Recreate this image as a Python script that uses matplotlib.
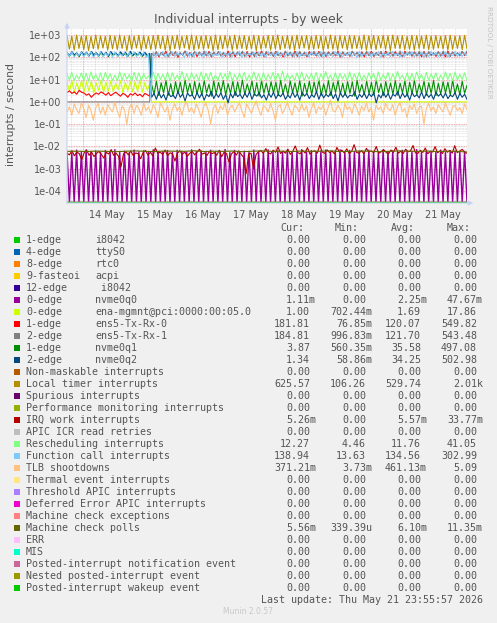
import numpy as np
import matplotlib
matplotlib.use('Agg')
import matplotlib.pyplot as plt
from matplotlib.patches import FancyArrowPatch, Rectangle

# ------------------------------------ data ------------------------------------
# x axis: days counted from 13 May 00:00; window 13 May 16:00 -> 22 May 00:00
T0, T1 = 0.667, 9.0
TSW = 2.41  # reboot / irq renumbering on 15 May morning
DAY_POS = [1.5, 2.5, 3.5, 4.5, 5.5, 6.5, 7.5, 8.5]
DAY_LABELS = ['14 May', '15 May', '16 May', '17 May', '18 May', '19 May', '20 May', '21 May']
Y_TICKS = [1e-4, 1e-3, 1e-2, 1e-1, 1e0, 1e1, 1e2, 1e3]
Y_LABELS = ['1e-04', '1e-03', '1e-02', '1e-01', '1e+00', '1e+01', '1e+02', '1e+03']

local_timer = [
    930, 230, 870, 210, 980, 250, 900, 220, 950, 200, 860, 240,
    990, 230, 910, 260, 880, 210, 960, 240, 900, 220, 1000, 250,
    870, 200, 940, 230, 890, 260, 970, 210, 920, 240, 860, 220,
    950, 230, 990, 250, 880, 210, 930, 200, 900, 240, 970, 230,
    860, 260, 940, 220, 1000, 210, 890, 240, 920, 230, 960, 250,
    870, 200, 980, 220, 910, 240, 940, 260, 880, 210, 990, 230,
    900, 250, 950, 220, 860, 240, 970, 200, 920, 230, 890, 260,
    960, 210, 930, 240, 1000, 220, 870, 250, 940, 230, 900, 210,
    980, 240, 910, 260, 950, 220, 880, 230, 970, 250, 920, 200,
    860, 240, 990, 230, 900, 210, 940, 260, 890, 220, 960, 240,
    930, 250, 870, 230, 1000, 210, 910, 240, 950, 220, 880, 260,
    970, 230, 920, 200, 990, 250, 900, 240, 940, 220, 860, 230,
    960, 210, 930, 250, 890, 240, 980, 220, 910, 230, 950, 260,
    880, 240, 940, 210, 970, 230, 900, 250, 930, 220, 960, 240,
]

function_call = [
    160, 110, 175, 100, 150, 120, 170, 105, 165, 115, 180, 98,
    155, 112, 172, 104, 160, 118, 168, 100, 176, 108, 150, 115,
    170, 102, 162, 120, 178, 106, 158, 112, 166, 100, 150, 1.5,
    170, 105, 160, 118, 182, 100, 155, 112, 174, 108, 165, 120,
    150, 98, 178, 110, 162, 104, 170, 116, 158, 100, 185, 112,
    166, 106, 152, 118, 176, 102, 160, 114, 172, 108, 156, 120,
    180, 100, 164, 110, 150, 116, 174, 104, 168, 112, 158, 98,
    176, 118, 162, 106, 184, 110, 154, 102, 170, 120, 160, 108,
    178, 100, 152, 114, 166, 104, 172, 118, 158, 110, 182, 100,
    164, 112, 150, 106, 176, 116, 168, 102, 156, 120, 174, 108,
    160, 98, 180, 110, 154, 114, 170, 104, 162, 118, 178, 100,
    158, 112, 166, 106, 184, 116, 152, 102, 172, 110, 164, 120,
    176, 104, 160, 114, 170, 100, 156, 108, 182, 118, 168, 106,
    162, 112, 174, 102, 150, 116, 178, 108, 166, 110, 158, 120,
]

ens5_0_pre = [2.6, 3.1, 2.4, 2.8, 2.2, 3.3, 2.7, 2.5, 2.0, 2.3, 1.6, 2.1,
              2.5, 2.2, 2.8, 2.4, 2.0, 2.6, 1.9, 2.3, 2.7, 2.2, 1.8, 2.4,
              2.1, 1.6, 2.3, 2.0, 2.5, 1.9, 2.2, 1.7, 2.4, 2.1, 1.8]
ens5_0_post = [
    150, 118, 172, 105, 160, 125, 185, 110, 168, 120, 178, 100,
    155, 130, 190, 112, 162, 122, 175, 108, 170, 126, 158, 115,
    182, 104, 165, 128, 176, 118, 152, 110, 188, 124, 160, 106,
    172, 130, 166, 114, 180, 102, 158, 122, 174, 116, 190, 108,
    162, 126, 170, 112, 184, 120, 156, 104, 176, 128, 164, 118,
    186, 110, 168, 124, 154, 106, 178, 130, 160, 114, 182, 120,
    166, 108, 174, 126, 158, 116, 188, 102, 170, 122, 162, 112,
    180, 128, 156, 118, 176, 106, 168, 124, 184, 110, 160, 120,
    172, 104, 190, 126, 164, 114, 178, 118, 154, 108, 186, 130,
    166, 112, 174, 122, 160, 106, 182, 116, 170, 128, 158, 110,
    176, 120, 164, 104, 188, 124, 168, 114, 156, 126, 180, 118, 182,
]

ens5_1_pre = [1.0, 1.0, 1.0, 1.0, 1.0, 1.0, 1.0, 1.0, 1.0, 1.0, 1.0, 1.0]
ens5_1_post = [
    140, 125, 178, 112, 165, 118, 160, 104, 182, 128, 170, 110,
    162, 122, 186, 116, 158, 106, 176, 130, 168, 114, 190, 120,
    160, 108, 174, 126, 182, 112, 166, 118, 156, 102, 180, 128,
    170, 116, 188, 110, 164, 124, 176, 106, 158, 120, 172, 114,
    184, 128, 166, 108, 178, 118, 160, 126, 190, 112, 170, 104,
    162, 122, 182, 116, 174, 110, 156, 128, 186, 120, 168, 106,
    178, 114, 160, 124, 180, 118, 166, 108, 176, 130, 158, 112,
    188, 120, 170, 104, 164, 126, 182, 116, 172, 110, 160, 122,
    184, 108, 168, 128, 176, 114, 156, 120, 190, 106, 166, 124,
    178, 118, 162, 112, 186, 126, 170, 104, 180, 116, 158, 122,
    174, 110, 188, 128, 164, 106, 176, 120, 160, 114, 184, 124, 185,
]

nvme0q1_pre = [150, 110, 165, 118, 148, 108, 160, 120, 155, 112, 170, 116,
               150, 110, 162, 118, 158, 106, 168, 120, 150, 112, 160, 116,
               156, 108, 170, 114, 148, 120, 158, 110, 152, 116, 140]
nvme0q1_post = [
    6.0, 2.2, 8.5, 1.9, 7.2, 2.5, 9.0, 2.0, 6.5, 1.8, 8.0, 2.4,
    7.5, 2.1, 9.5, 2.6, 6.8, 1.9, 8.2, 2.3, 7.0, 2.0, 9.2, 2.5,
    6.2, 1.8, 8.8, 2.2, 7.4, 2.7, 9.0, 2.0, 6.6, 2.4, 8.4, 1.9,
    7.8, 2.3, 9.6, 2.1, 6.4, 2.6, 8.6, 2.0, 7.2, 1.8, 9.0, 2.4,
    6.9, 2.2, 8.0, 2.5, 7.6, 1.9, 9.4, 2.3, 6.3, 2.0, 8.7, 2.6,
    7.1, 2.2, 9.1, 1.8, 6.7, 2.4, 8.3, 2.1, 7.7, 2.5, 9.5, 2.0,
    6.5, 2.3, 8.9, 1.9, 7.3, 2.6, 9.2, 2.2, 6.8, 2.0, 8.1, 2.4,
    7.9, 1.8, 9.3, 2.5, 6.1, 2.1, 8.5, 2.3, 7.4, 2.0, 9.7, 2.6,
    6.6, 1.9, 8.2, 2.4, 7.0, 2.2, 9.0, 2.0, 6.9, 2.5, 8.8, 1.8,
    7.5, 2.3, 9.4, 2.1, 6.4, 2.6, 8.6, 2.0, 7.2, 2.4, 9.1, 1.9,
    6.8, 2.2, 8.0, 2.5, 7.6, 2.0, 9.3, 2.3, 6.3, 2.1, 8.4, 2.4, 5.5,
]

nvme0q2_pre = [165, 120, 180, 130, 158, 115, 176, 128, 170, 118, 185, 132,
               160, 122, 178, 126, 168, 114, 182, 130, 162, 120, 175, 128,
               170, 116, 184, 124, 158, 130, 172, 118, 166, 126, 150]
nvme0q2_post = [
    1.6, 2.4, 1.3, 2.8, 1.5, 2.2, 1.2, 2.6, 1.7, 2.0, 1.4, 2.9,
    1.6, 2.3, 1.1, 2.5, 1.8, 2.1, 1.3, 2.7, 1.5, 2.4, 1.2, 2.2,
    1.7, 3.0, 1.4, 2.3, 1.6, 2.6, 1.3, 2.1, 0.9, 2.4, 1.5, 2.8,
    1.7, 2.2, 1.4, 2.5, 1.6, 2.9, 1.3, 2.3, 1.8, 2.6, 1.5, 2.1,
    1.2, 2.4, 1.6, 2.7, 1.4, 2.2, 1.7, 2.5, 1.3, 2.0, 1.5, 2.8,
    1.6, 2.3, 1.2, 2.6, 1.8, 2.4, 1.4, 2.1, 1.6, 2.9, 1.3, 2.5,
    1.5, 2.2, 1.7, 2.7, 1.4, 2.3, 1.1, 2.6, 1.6, 2.4, 1.5, 2.0,
    1.8, 2.8, 1.3, 2.2, 1.6, 2.5, 1.4, 2.3, 1.7, 2.6, 0.9, 2.1,
    1.5, 2.7, 1.6, 2.4, 1.3, 2.2, 1.8, 2.9, 1.4, 2.5, 1.6, 2.3,
    1.2, 2.6, 1.7, 2.1, 1.5, 2.8, 1.4, 2.4, 1.6, 2.2, 1.3, 2.7,
    1.8, 2.3, 1.5, 2.5, 1.4, 2.0, 1.7, 2.6, 1.3, 2.4, 1.6, 2.2, 1.3,
]

ena_pre = [7.5, 3.0, 8.8, 2.6, 6.9, 3.4, 9.0, 2.8, 7.8, 3.1, 8.4, 2.5,
           7.0, 3.3, 9.2, 2.7, 7.6, 3.0, 8.6, 2.9, 6.8, 3.5, 8.9, 2.6,
           7.3, 3.2, 8.1, 2.8, 7.9, 3.0, 9.1, 2.7, 7.2, 3.3, 6.5]
ena_post = [1.0, 1.0, 1.0, 1.0, 1.0, 1.0, 1.0, 1.0, 1.0, 1.0, 1.0, 1.0]

rescheduling = [
    18, 9.5, 21, 8.8, 16, 10.5, 20, 9.0, 19, 8.5, 22, 10.0,
    17, 9.2, 20, 8.6, 21, 10.2, 18, 9.0, 16, 8.8, 22, 9.6,
    19, 10.4, 17, 8.4, 21, 9.8, 20, 9.0, 18, 10.6, 15, 9.2,
    22, 8.8, 19, 10.0, 17, 9.4, 21, 8.6, 20, 10.2, 16, 9.0,
    23, 9.6, 18, 8.8, 20, 10.4, 17, 9.2, 22, 8.5, 19, 10.0,
    21, 9.4, 16, 8.9, 20, 10.6, 18, 9.1, 23, 8.7, 17, 9.8,
    19, 10.3, 21, 8.8, 16, 9.5, 22, 10.1, 18, 8.6, 20, 9.3,
    17, 10.5, 21, 8.9, 19, 9.7, 24, 8.5, 18, 10.2, 16, 9.0,
    20, 9.6, 22, 8.8, 17, 10.4, 19, 9.1, 21, 8.7, 18, 9.9,
    23, 10.2, 16, 8.6, 20, 9.4, 19, 10.6, 17, 8.9, 22, 9.2,
    18, 10.0, 21, 8.8, 16, 9.6, 20, 10.3, 19, 8.5, 22, 9.1,
    17, 10.1, 21, 8.7, 18, 9.8, 23, 10.4, 16, 9.0, 20, 8.8,
    19, 9.5, 22, 10.2, 17, 8.6, 21, 9.3, 18, 10.0, 20, 8.9,
    16, 9.7, 22, 10.1, 19, 8.8, 21, 9.6, 17, 10.2, 20, 9.4,
]

tlb = [
    0.35, 0.6, 0.25, 0.8, 0.45, 0.3, 0.9, 0.5, 0.2, 0.7, 0.4, 0.15,
    0.55, 0.85, 0.3, 0.6, 0.25, 0.75, 0.5, 0.35, 0.95, 0.4, 0.2, 0.65,
    0.45, 0.1, 0.55, 0.8, 0.3, 0.7, 0.5, 0.25, 0.85, 0.4, 0.6, 0.3,
    0.75, 0.45, 0.2, 0.9, 0.55, 0.35, 0.65, 0.15, 0.5, 0.8, 0.4, 0.6,
    0.25, 0.7, 1.0, 0.35, 0.55, 0.3, 0.8, 0.45, 0.2, 0.6, 0.9, 0.4,
    0.1, 0.5, 0.75, 0.3, 0.65, 0.45, 0.85, 0.25, 0.55, 0.7, 0.35, 0.6,
    0.9, 0.4, 0.2, 0.8, 0.5, 0.3, 0.65, 1.1, 0.45, 0.25, 0.7, 0.55,
    0.35, 0.85, 0.4, 0.15, 0.6, 0.75, 0.3, 0.5, 0.95, 0.45, 0.25, 0.7,
    0.55, 0.35, 0.8, 0.4, 0.65, 0.2, 0.5, 0.9, 0.3, 0.6, 0.45, 0.75,
    0.25, 0.55, 1.2, 0.4, 0.35, 0.7, 0.5, 0.2, 0.85, 0.45, 0.6, 0.3,
    0.8, 0.5, 0.25, 0.65, 0.4, 0.9, 0.35, 0.55, 0.15, 0.7, 0.45, 0.6,
    0.3, 0.85, 0.5, 0.4, 0.75, 0.25, 0.6, 0.95, 0.35, 0.5, 0.2, 0.7,
    0.45, 0.8, 0.3, 0.55, 0.65, 0.1, 0.5, 0.85, 0.4, 0.6, 0.3, 0.75,
    0.5, 0.35, 0.9, 0.45, 0.25, 0.6, 0.7, 0.4, 0.55, 0.3, 0.8, 0.45,
]

# milli-interrupts per second
nvme0q0_m = [
    6.0, 0, 5.2, 0, 6.8, 0, 5.5, 0, 7.0, 0, 5.8, 0,
    6.2, 0, 5.4, 0, 6.6, 0, 5.9, 0, 7.2, 0, 5.6, 0,
    6.1, 0, 5.3, 0, 6.9, 0, 5.7, 0, 6.4, 0, 5.5, 0,
    7.1, 0, 6.0, 0, 5.8, 0, 6.5, 0, 5.4, 0, 6.7, 0,
    6.0, 0, 5.6, 0, 7.0, 0, 5.9, 0, 6.3, 0, 5.5, 0,
    6.8, 0, 5.7, 0, 6.1, 0, 7.3, 0, 5.4, 0, 6.6, 0,
    5.8, 0, 6.2, 0, 5.6, 0, 6.9, 0, 6.0, 0, 5.5, 0,
    7.0, 0, 5.9, 0, 6.4, 0, 5.7, 0, 6.8, 0, 5.4, 0,
    6.1, 0, 7.2, 0, 5.8, 0, 6.5, 0, 5.6, 0, 6.3, 0,
    6.9, 0, 5.5, 0, 6.0, 0, 7.1, 0, 5.7, 0, 6.6, 0,
    5.9, 0, 6.2, 0, 5.4, 0, 6.8, 0, 6.0, 0, 5.6, 0,
    7.0, 0, 5.8, 0, 6.4, 0, 5.5, 0, 6.7, 0, 6.1, 0,
    5.9, 0, 7.2, 0, 5.6, 0, 6.3, 0, 6.0, 0, 5.8, 0,
    6.9, 0, 5.5, 0, 6.5, 0, 6.2, 0, 5.7, 0, 6.0, 0,
]
irq_work_m = [
    5.0, 4.2, 6.5, 3.8, 5.5, 4.8, 2.5, 5.2, 6.8, 4.0, 5.6, 3.5,
    4.8, 6.0, 4.4, 3.0, 5.4, 4.6, 7.2, 4.0, 5.0, 3.6, 1.2, 4.5,
    5.8, 4.2, 6.2, 3.9, 5.1, 4.7, 2.8, 5.3, 6.6, 4.1, 5.5, 3.7,
    8.5, 4.9, 5.6, 4.3, 6.9, 3.8, 5.2, 4.6, 2.2, 5.0, 6.4, 4.4,
    5.7, 3.6, 4.9, 6.1, 4.2, 5.4, 7.5, 4.5, 5.1, 3.9, 6.0, 4.7,
    5.3, 4.0, 6.7, 3.4, 5.5, 4.8, 2.0, 4.6, 5.9, 4.1, 6.3, 4.4,
    3.2, 0.6, 4.5, 5.0, 1.0, 4.3, 5.8, 6.5, 4.9, 8.0, 5.2, 4.6,
    6.8, 5.4, 9.5, 4.8, 6.2, 5.0, 7.6, 4.4, 6.0, 10.5, 5.3, 4.7,
    6.6, 5.1, 8.8, 4.5, 5.9, 6.4, 5.0, 11.5, 5.6, 4.9, 7.0, 5.3,
    6.2, 4.6, 9.0, 5.5, 6.8, 5.1, 7.8, 4.8, 6.0, 12.0, 5.4, 5.0,
    6.5, 4.7, 8.2, 5.6, 6.3, 5.2, 10.0, 4.9, 5.8, 7.2, 5.5, 4.6,
    6.9, 5.3, 9.2, 5.0, 6.1, 4.8, 7.5, 5.7, 6.4, 11.0, 5.1, 4.9,
    6.7, 5.4, 8.5, 4.7, 6.0, 5.6, 9.8, 5.2, 6.3, 4.8, 7.9, 5.5,
    6.6, 5.0, 10.8, 5.3, 6.1, 7.4, 5.6, 4.9,
]
mc_polls_m = [6.0, 6.1, 5.9, 6.2, 6.0, 5.8, 6.1, 6.3, 6.0, 5.9, 6.2, 6.1,
              6.0, 6.4, 5.9, 6.1, 6.0, 6.2, 5.8, 6.1, 6.3, 6.0, 6.1, 5.9,
              6.2, 6.0, 6.1, 6.3, 5.9, 6.0, 6.2, 6.1, 5.8, 6.0, 6.3, 6.1,
              6.0, 6.2, 5.9, 6.1, 6.0, 5.6]

zero = [0.0, 0.0]

# legend table
NAMES = ['1-edge', '4-edge', '8-edge', '9-fasteoi', '12-edge', '0-edge', '0-edge',
         '1-edge', '2-edge', '1-edge', '2-edge',
         'Non-maskable interrupts', 'Local timer interrupts', 'Spurious interrupts',
         'Performance monitoring interrupts', 'IRQ work interrupts', 'APIC ICR read retries',
         'Rescheduling interrupts', 'Function call interrupts', 'TLB shootdowns',
         'Thermal event interrupts', 'Threshold APIC interrupts',
         'Deferred Error APIC interrupts', 'Machine check exceptions', 'Machine check polls',
         'ERR', 'MIS', 'Posted-interrupt notification event', 'Nested posted-interrupt event',
         'Posted-interrupt wakeup event']
DEVICES = ['i8042', 'ttyS0', 'rtc0', 'acpi', ' i8042', 'nvme0q0', 'ena-mgmnt@pci:0000:00:05.0',
           'ens5-Tx-Rx-0', 'ens5-Tx-Rx-1', 'nvme0q1', 'nvme0q2'] + [''] * 19
COLORS = ['#00CC00', '#0066B3', '#FF8000', '#FFCC00', '#330099', '#990099', '#CCFF00',
          '#FF0000', '#808080', '#008F00', '#00487D', '#B35A00', '#B38F00', '#6B006B',
          '#8FB300', '#B30000', '#BEBEBE', '#80FF80', '#80C9FF', '#FFC080', '#FFE680',
          '#AA80FF', '#EE00CC', '#FF8080', '#666600', '#FFBFFF', '#00FFCC', '#CC6699',
          '#999900', '#00CC00']
CUR = ['0.00', '0.00', '0.00', '0.00', '0.00', '1.11m', '1.00', '181.81', '184.81', '3.87',
       '1.34', '0.00', '625.57', '0.00', '0.00', '5.26m', '0.00', '12.27', '138.94', '371.21m',
       '0.00', '0.00', '0.00', '0.00', '5.56m', '0.00', '0.00', '0.00', '0.00', '0.00']
MIN = ['0.00', '0.00', '0.00', '0.00', '0.00', '0.00', '702.44m', '76.85m', '996.83m',
       '560.35m', '58.86m', '0.00', '106.26', '0.00', '0.00', '0.00', '0.00', '4.46', '13.63',
       '3.73m', '0.00', '0.00', '0.00', '0.00', '339.39u', '0.00', '0.00', '0.00', '0.00', '0.00']
AVG = ['0.00', '0.00', '0.00', '0.00', '0.00', '2.25m', '1.69', '120.07', '121.70', '35.58',
       '34.25', '0.00', '529.74', '0.00', '0.00', '5.57m', '0.00', '11.76', '134.56', '461.13m',
       '0.00', '0.00', '0.00', '0.00', '6.10m', '0.00', '0.00', '0.00', '0.00', '0.00']
MAX = ['0.00', '0.00', '0.00', '0.00', '0.00', '47.67m', '17.86', '549.82', '543.48', '497.08',
       '502.98', '0.00', '2.01k', '0.00', '0.00', '33.77m', '0.00', '41.05', '302.99', '5.09',
       '0.00', '0.00', '0.00', '0.00', '11.35m', '0.00', '0.00', '0.00', '0.00', '0.00']

# ------------------------------------ drawing ------------------------------------
W, H = 497, 623
YMIN, YMAX = 2.9e-5, 2060
CHAR_W = 6.0  # px per monospace character


def fx(x):
    return x / W


def fy(y):
    return 1 - y / H


def full_x(vals):
    return np.linspace(T0, T1, len(vals))


def split_xy(pre, post):
    x = np.concatenate([np.linspace(T0, TSW - 0.02, len(pre)),
                        np.linspace(TSW + 0.02, T1, len(post))])
    return x, np.array(pre + post, dtype=float)


def milli(vals):
    return np.array(vals, dtype=float) * 1e-3


series = {}
for i in range(30):
    series[i] = (np.array([T0, T1]), np.array(zero))
series[5] = (full_x(nvme0q0_m), milli(nvme0q0_m))
series[6] = split_xy(ena_pre, ena_post)
series[7] = split_xy(ens5_0_pre, ens5_0_post)
series[8] = split_xy(ens5_1_pre, ens5_1_post)
series[9] = split_xy(nvme0q1_pre, nvme0q1_post)
series[10] = split_xy(nvme0q2_pre, nvme0q2_post)
series[12] = (full_x(local_timer), np.array(local_timer, dtype=float))
series[15] = (full_x(irq_work_m), milli(irq_work_m))
series[17] = (full_x(rescheduling), np.array(rescheduling, dtype=float))
series[18] = (full_x(function_call), np.array(function_call, dtype=float))
series[19] = (full_x(tlb), np.array(tlb, dtype=float))
series[24] = (full_x(mc_polls_m), milli(mc_polls_m))

fig = plt.figure(figsize=(W / 100, H / 100), dpi=100, facecolor='#F0F0F0')
ax = fig.add_axes([fx(67), fy(203), fx(467) - fx(67), fy(28) - fy(203)])
ax.set_facecolor('white')
ax.set_yscale('log')
ax.set_xlim(T0, T1)
ax.set_ylim(YMIN, YMAX)

# grid: minor grey dots, major red dots
for d in np.arange(0.75, 9.0, 0.25):
    if abs(d - round(d)) > 1e-6:
        ax.axvline(d, color='#cfcfcf', lw=0.5, ls=(0, (1, 1)), zorder=0)
for d in range(1, 9):
    ax.axvline(d, color='#f08a8a', lw=0.6, ls=(0, (1, 1)), zorder=0)
for e in range(-5, 4):
    for s in range(2, 10):
        v = s * 10.0 ** e
        if YMIN < v < YMAX:
            ax.axhline(v, color='#d4d4d4', lw=0.5, ls=(0, (1, 1)), zorder=0)
for v in Y_TICKS:
    ax.axhline(v, color='#f08a8a', lw=0.6, ls=(0, (1, 1)), zorder=0)

for i in range(30):
    x, y = series[i]
    lw = 1.0 if i == 5 else 0.8
    ax.plot(x, np.maximum(y, YMIN * 1.06), color=COLORS[i], lw=lw, zorder=2)

for s in ax.spines.values():
    s.set_visible(False)
ax.set_xticks(DAY_POS, DAY_LABELS)
ax.set_yticks(Y_TICKS, Y_LABELS)
ax.yaxis.set_minor_locator(matplotlib.ticker.NullLocator())
ax.tick_params(axis='both', length=0, labelsize=7, labelcolor='#555555')
ax.tick_params(axis='x', pad=5)
ax.tick_params(axis='y', pad=4)

# axis arrows
arrow_c = '#c8d2f2'
fig.add_artist(FancyArrowPatch((fx(67), fy(206)), (fx(67), fy(20)), transform=fig.transFigure,
                               arrowstyle='-|>', mutation_scale=7, color=arrow_c, lw=0.8))
fig.add_artist(FancyArrowPatch((fx(64), fy(203)), (fx(476), fy(203)), transform=fig.transFigure,
                               arrowstyle='-|>', mutation_scale=7, color=arrow_c, lw=0.8))

fig.text(fx(248), fy(19), 'Individual interrupts - by week', ha='center', va='center',
         fontsize=8.9, color='#555555')
fig.text(fx(11), fy(115), 'interrupts / second', ha='center', va='center', rotation=90,
         fontsize=7.8, color='#555555')
fig.text(fx(489), fy(52), 'RRDTOOL / TOBI OETIKER', ha='center', va='center', rotation=270,
         fontsize=5.2, color='#c4c4c4')

# legend
mono = 'DejaVu Sans Mono'
fs = 7.2
tc = '#555555'
for lbl, xl in zip(['Cur:', 'Min:', 'Avg:', 'Max:'], [280, 335, 391, 447]):
    fig.text(fx(xl), fy(228), lbl, ha='left', va='center', family=mono, fontsize=fs, color=tc)
for i in range(30):
    yy = 240 + 12 * i
    fig.add_artist(Rectangle((fx(14), fy(yy + 3)), 6 / W, 6 / H, transform=fig.transFigure,
                             color=COLORS[i], lw=0))
    fig.text(fx(26), fy(yy), NAMES[i], ha='left', va='center', family=mono, fontsize=fs, color=tc)
    if DEVICES[i]:
        fig.text(fx(95), fy(yy), DEVICES[i], ha='left', va='center', family=mono, fontsize=fs,
                 color=tc)
    for val, xr in zip([CUR[i], MIN[i], AVG[i], MAX[i]], [310, 366, 421, 477]):
        # digits line up; a unit suffix sticks out one character to the right
        edge = xr + CHAR_W if val[-1].isalpha() else xr
        fig.text(fx(edge), fy(yy), val, ha='right', va='center', family=mono, fontsize=fs,
                 color=tc)

fig.text(fx(483), fy(600), 'Last update: Thu May 21 23:55:57 2026', ha='right', va='center',
         family=mono, fontsize=fs, color=tc)
fig.text(fx(248), fy(612), 'Munin 2.0.57', ha='center', va='center', fontsize=5.5,
         color='#c8c8c8')

fig.savefig('out.png', dpi=100, facecolor=fig.get_facecolor())
